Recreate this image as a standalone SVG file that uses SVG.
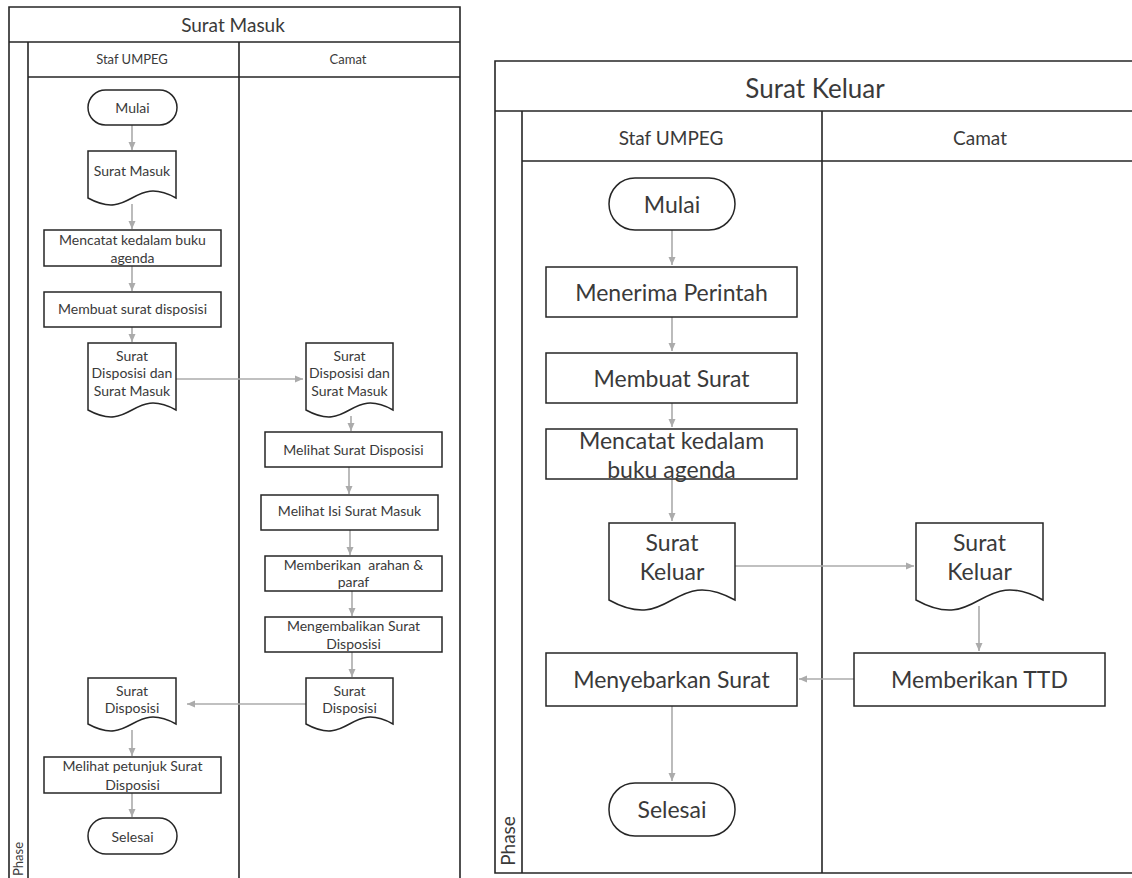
<svg xmlns="http://www.w3.org/2000/svg" width="1132" height="878" viewBox="0 0 1132 878">
<style>
.frame{fill:none;stroke:#262626;stroke-width:1.6}
.box{fill:#fff;stroke:#262626;stroke-width:1.5}
.conn{fill:none;stroke:#ababab;stroke-width:1.6}
text{font-family:Lato,"Liberation Sans",sans-serif;fill:#3a3a3a;text-anchor:middle;dominant-baseline:central}
.s{font-size:14px}
.sh{font-size:13px}
.st{font-size:19px}
.l{font-size:23px}
.lh{font-size:19px}
.lt{font-size:26px}
</style>
<defs>
<marker id="arr" viewBox="0 0 8 8" refX="8" refY="4" markerWidth="8" markerHeight="8" markerUnits="userSpaceOnUse" orient="auto">
<path d="M0,0.5 L8,4 L0,7.5 z" fill="#ababab"/>
</marker>
</defs>
<rect width="1132" height="878" fill="#fff"/>

<!-- ===== Left pool: Surat Masuk ===== -->
<g id="pool-masuk">
<path class="frame" d="M9,878 V7 H460 V878 M9,42 H460 M28,42 V878 M28,77 H460 M239,42 V878"/>
<text class="st" x="233" y="24">Surat Masuk</text>
<text class="sh" x="132" y="59">Staf UMPEG</text>
<text class="sh" x="348" y="59">Camat</text>
<text class="sh" transform="translate(18,859) rotate(-90)">Phase</text>
</g>

<g id="m-connectors">
<line class="conn" x1="132" y1="125" x2="132" y2="150" marker-end="url(#arr)"/>
<line class="conn" x1="132" y1="204" x2="132" y2="229" marker-end="url(#arr)"/>
<line class="conn" x1="132" y1="266" x2="132" y2="291" marker-end="url(#arr)"/>
<line class="conn" x1="132" y1="327" x2="132" y2="342" marker-end="url(#arr)"/>
<line class="conn" x1="176" y1="379" x2="303" y2="379" marker-end="url(#arr)"/>
<line class="conn" x1="351" y1="416" x2="351" y2="431" marker-end="url(#arr)"/>
<line class="conn" x1="349" y1="467" x2="349" y2="494" marker-end="url(#arr)"/>
<line class="conn" x1="350" y1="530" x2="350" y2="555" marker-end="url(#arr)"/>
<line class="conn" x1="352" y1="591" x2="352" y2="616" marker-end="url(#arr)"/>
<line class="conn" x1="352" y1="652" x2="352" y2="677" marker-end="url(#arr)"/>
<line class="conn" x1="306" y1="704" x2="187" y2="704" marker-end="url(#arr)"/>
<line class="conn" x1="132" y1="730" x2="132" y2="756" marker-end="url(#arr)"/>
<line class="conn" x1="132" y1="793" x2="132" y2="817" marker-end="url(#arr)"/>
</g>

<g id="m-mulai">
<rect class="box" x="88" y="90" width="89" height="35" rx="17.5"/>
<text class="s" x="132.5" y="107.5">Mulai</text>
</g>
<g id="m-suratmasuk">
<path class="box" d="M88,151 H176 V198 C132,174 132,222 88,198 Z"/>
<text class="s" x="132" y="170">Surat Masuk</text>
</g>
<g id="m-mencatat">
<rect class="box" x="44" y="230" width="177" height="36"/>
<text class="s" x="132.5" y="239">Mencatat kedalam buku</text>
<text class="s" x="132.5" y="257">agenda</text>
</g>
<g id="m-membuat">
<rect class="box" x="44" y="292" width="177" height="35"/>
<text class="s" x="132.5" y="308">Membuat surat disposisi</text>
</g>
<g id="m-doc-staf">
<path class="box" d="M88,343 H176 V410 C132,386 132,434 88,410 Z"/>
<text class="s" x="132" y="355">Surat</text>
<text class="s" x="132" y="372">Disposisi dan</text>
<text class="s" x="132" y="390">Surat Masuk</text>
</g>
<g id="m-doc-camat">
<path class="box" d="M306,343 H393 V410 C349.5,386 349.5,434 306,410 Z"/>
<text class="s" x="349.5" y="355">Surat</text>
<text class="s" x="349.5" y="372">Disposisi dan</text>
<text class="s" x="349.5" y="390">Surat Masuk</text>
</g>
<g id="m-melihat-disposisi">
<rect class="box" x="265" y="432" width="177" height="35"/>
<text class="s" x="353.5" y="449">Melihat Surat Disposisi</text>
</g>
<g id="m-melihat-isi">
<rect class="box" x="261" y="495" width="177" height="35"/>
<text class="s" x="349.5" y="510">Melihat Isi Surat Masuk</text>
</g>
<g id="m-memberikan">
<rect class="box" x="265" y="556" width="177" height="35"/>
<text class="s" x="353.5" y="564">Memberikan&#160; arahan &amp;</text>
<text class="s" x="353.5" y="581">paraf</text>
</g>
<g id="m-mengembalikan">
<rect class="box" x="265" y="617" width="177" height="35"/>
<text class="s" x="353.5" y="625">Mengembalikan Surat</text>
<text class="s" x="353.5" y="643">Disposisi</text>
</g>
<g id="m-doc-disp-camat">
<path class="box" d="M306,678 H393 V724 C349.5,700 349.5,748 306,724 Z"/>
<text class="s" x="349.5" y="690">Surat</text>
<text class="s" x="349.5" y="707">Disposisi</text>
</g>
<g id="m-doc-disp-staf">
<path class="box" d="M88,678 H176 V724 C132,700 132,748 88,724 Z"/>
<text class="s" x="132" y="690">Surat</text>
<text class="s" x="132" y="707">Disposisi</text>
</g>
<g id="m-petunjuk">
<rect class="box" x="44" y="757" width="177" height="36"/>
<text class="s" x="132.5" y="765">Melihat petunjuk Surat</text>
<text class="s" x="132.5" y="784">Disposisi</text>
</g>
<g id="m-selesai">
<rect class="box" x="88" y="818" width="89" height="36" rx="18"/>
<text class="s" x="132.5" y="836">Selesai</text>
</g>

<!-- ===== Right pool: Surat Keluar ===== -->
<g id="pool-keluar">
<path class="frame" d="M1132,61 H495 V873 H1132 M495,111 H1132 M522,111 V873 M522,161 H1132 M822,111 V873"/>
<text class="lt" x="815" y="88">Surat Keluar</text>
<text class="lh" x="671" y="137">Staf UMPEG</text>
<text class="lh" x="980" y="137">Camat</text>
<text class="lh" transform="translate(507,841) rotate(-90)">Phase</text>
</g>

<g id="k-connectors">
<line class="conn" x1="672" y1="230" x2="672" y2="265" marker-end="url(#arr)"/>
<line class="conn" x1="672" y1="317" x2="672" y2="351" marker-end="url(#arr)"/>
<line class="conn" x1="672" y1="403" x2="672" y2="427" marker-end="url(#arr)"/>
<line class="conn" x1="672" y1="479" x2="672" y2="521" marker-end="url(#arr)"/>
<line class="conn" x1="735" y1="566" x2="914" y2="566" marker-end="url(#arr)"/>
<line class="conn" x1="979" y1="606" x2="979" y2="651" marker-end="url(#arr)"/>
<line class="conn" x1="854" y1="679" x2="799" y2="679" marker-end="url(#arr)"/>
<line class="conn" x1="672" y1="706" x2="672" y2="781" marker-end="url(#arr)"/>
</g>

<g id="k-mulai">
<rect class="box" x="609" y="178" width="126" height="52" rx="26"/>
<text class="l" x="672" y="204">Mulai</text>
</g>
<g id="k-menerima">
<rect class="box" x="546" y="267" width="251" height="50"/>
<text class="l" x="671.5" y="292">Menerima Perintah</text>
</g>
<g id="k-membuat">
<rect class="box" x="546" y="353" width="251" height="50"/>
<text class="l" x="671.5" y="378">Membuat Surat</text>
</g>
<g id="k-mencatat">
<rect class="box" x="546" y="429" width="251" height="50"/>
<text class="l" x="671.5" y="440">Mencatat kedalam</text>
<text class="l" x="671.5" y="469">buku agenda</text>
</g>
<g id="k-doc-staf">
<path class="box" d="M609,523 H735 V600 C672,565 672,635 609,600 Z"/>
<text class="l" x="672" y="542">Surat</text>
<text class="l" x="672" y="571">Keluar</text>
</g>
<g id="k-doc-camat">
<path class="box" d="M916,523 H1043 V600 C979.5,565 979.5,635 916,600 Z"/>
<text class="l" x="979.5" y="542">Surat</text>
<text class="l" x="979.5" y="571">Keluar</text>
</g>
<g id="k-ttd">
<rect class="box" x="854" y="653" width="251" height="53"/>
<text class="l" x="979.5" y="679">Memberikan TTD</text>
</g>
<g id="k-menyebarkan">
<rect class="box" x="546" y="653" width="251" height="53"/>
<text class="l" x="671.5" y="679">Menyebarkan Surat</text>
</g>
<g id="k-selesai">
<rect class="box" x="609" y="783" width="126" height="53" rx="26"/>
<text class="l" x="672" y="809">Selesai</text>
</g>
</svg>
